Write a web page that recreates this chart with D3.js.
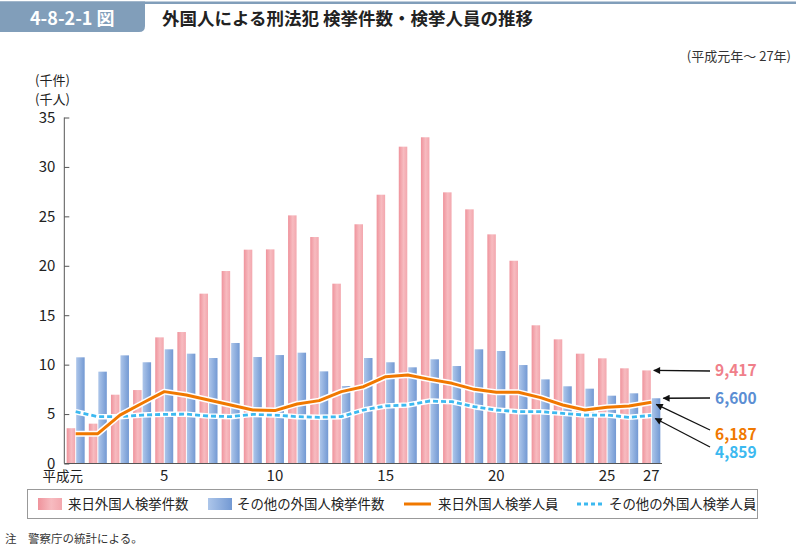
<!DOCTYPE html>
<html>
<head>
<meta charset="utf-8">
<script src="https://cdn.jsdelivr.net/npm/d3@7"></script>
<style>
  body { margin: 0; background: #fff; }
  svg { display: block; font-family: "Noto Sans CJK JP", "Noto Sans", sans-serif; }
</style>
</head>
<body>
<svg id="chart" width="796" height="547"></svg>
<script>
// 平成元年～27年
const years = d3.range(1, 28);
const xTickYears = [1, 5, 10, 15, 20, 25, 27];
const xTickLabels = ["平成元", "5", "10", "15", "20", "25", "27"];
const yTicks = [0, 5, 10, 15, 20, 25, 30, 35];

// 来日外国人検挙件数 (千件)
const raiCases = [3.57, 4.03, 6.96, 7.43, 12.76, 13.30, 17.18, 19.47, 21.63, 21.66, 25.10, 22.91, 18.19, 24.20,
  27.19, 32.05, 33.00, 27.43, 25.71, 23.18, 20.51, 13.98, 12.56, 11.11, 10.64, 9.63, 9.417];
// その他の外国人検挙件数 (千件)
const otherCases = [10.74, 9.29, 10.94, 10.24, 11.55, 11.11, 10.67, 12.19, 10.77, 10.97, 11.21, 9.32, 7.84, 10.67,
  10.24, 9.73, 10.54, 9.86, 11.55, 11.38, 9.96, 8.51, 7.81, 7.57, 6.86, 7.10, 6.600];
// 来日外国人検挙人員 (千人)
const raiPersons = [3.02, 3.02, 4.90, 6.09, 7.27, 6.93, 6.42, 5.92, 5.41, 5.35, 6.02, 6.36, 7.27, 7.77,
  8.78, 8.95, 8.51, 8.11, 7.50, 7.20, 7.20, 6.66, 5.92, 5.41, 5.68, 5.82, 6.187];
// その他の外国人検挙人員 (千人)
const otherPersons = [5.24, 4.74, 4.74, 4.90, 4.97, 4.99, 4.80, 4.74, 4.97, 4.90, 4.74, 4.67, 4.74, 5.41,
  5.82, 5.92, 6.32, 6.25, 5.75, 5.41, 5.24, 5.24, 5.07, 4.90, 4.90, 4.67, 4.859];

const legendNames = ["来日外国人検挙件数", "その他の外国人検挙件数", "来日外国人検挙人員", "その他の外国人検挙人員"];

const pink = "#f07f8a", blue = "#5b8ed3", orange = "#f07800", sky = "#3cb9f0";

const svg = d3.select("#chart");

// gradients for bars
const defs = svg.append("defs");
const gp = defs.append("linearGradient").attr("id", "gPink");
gp.append("stop").attr("offset", "0%").attr("stop-color", "#ef939c");
gp.append("stop").attr("offset", "55%").attr("stop-color", "#f7bbc0");
gp.append("stop").attr("offset", "100%").attr("stop-color", "#f3a7ae");
const gb = defs.append("linearGradient").attr("id", "gBlue");
gb.append("stop").attr("offset", "0%").attr("stop-color", "#adc6ea");
gb.append("stop").attr("offset", "100%").attr("stop-color", "#7399d3");
defs.append("marker").attr("id", "arrow").attr("viewBox", "0 0 10 10")
  .attr("refX", 9).attr("refY", 5).attr("markerWidth", 9).attr("markerHeight", 7)
  .attr("markerUnits", "userSpaceOnUse").attr("orient", "auto")
  .append("path").attr("d", "M0,0L10,5L0,10Z").attr("fill", "#111");

// header
const hdr = "#819eba";
svg.append("rect").attr("x", 0).attr("y", 1.5).attr("width", 796).attr("height", 2.5).attr("fill", hdr);
svg.append("path").attr("d", "M0,1.5H145V26Q145,32 139,32H0Z").attr("fill", hdr);
svg.append("text").attr("x", 30).attr("y", 25).attr("fill", "#fff")
  .attr("font-size", 18).attr("font-weight", "bold").text("4-8-2-1 図");
svg.append("text").attr("x", 162).attr("y", 25).attr("fill", "#222")
  .attr("font-size", 17.5).attr("font-weight", "bold").text("外国人による刑法犯 検挙件数・検挙人員の推移");
svg.append("text").attr("x", 791).attr("y", 61).attr("text-anchor", "end").attr("fill", "#333")
  .attr("font-size", 13).text("(平成元年～ 27年)");

// scales
const x = d3.scaleBand().domain(years).range([64.6, 662.4]);
const y = d3.scaleLinear().domain([0, 35]).range([463.5, 117.5]);
const cx = d => x(d) + x.bandwidth() / 2;

// bars
const g = svg.append("g");
g.selectAll("rect.rai").data(years).enter().append("rect").attr("class", "rai")
  .attr("x", d => cx(d) - 9).attr("width", 8.5)
  .attr("y", (d, i) => y(raiCases[i])).attr("height", (d, i) => y(0) - y(raiCases[i]))
  .attr("fill", "url(#gPink)");
g.selectAll("rect.oth").data(years).enter().append("rect").attr("class", "oth")
  .attr("x", d => cx(d) + 0.5).attr("width", 8.5)
  .attr("y", (d, i) => y(otherCases[i])).attr("height", (d, i) => y(0) - y(otherCases[i]))
  .attr("fill", "url(#gBlue)");

// lines
const line = d3.line().x((v, i) => cx(years[i])).y(v => y(v));
g.append("path").attr("d", line(otherPersons)).attr("fill", "none")
  .attr("stroke", "#fff").attr("stroke-width", 5.5).attr("stroke-linejoin", "round");
g.append("path").attr("d", line(otherPersons)).attr("fill", "none")
  .attr("stroke", sky).attr("stroke-width", 2.8).attr("stroke-dasharray", "5,3");
g.append("path").attr("d", line(raiPersons)).attr("fill", "none")
  .attr("stroke", "#fff").attr("stroke-width", 6).attr("stroke-linejoin", "round");
g.append("path").attr("d", line(raiPersons)).attr("fill", "none")
  .attr("stroke", orange).attr("stroke-width", 3).attr("stroke-linejoin", "round");

// axes
const yAxis = svg.append("g").attr("transform", "translate(64.3,0)")
  .call(d3.axisLeft(y).tickValues(yTicks).tickSize(-5).tickPadding(9));
yAxis.select(".domain").attr("stroke", "#555").attr("d", `M0,${y(35)}V${y(0)}`);
yAxis.selectAll(".tick line").attr("stroke", "#555");
yAxis.selectAll(".tick text").attr("font-size", 15).attr("fill", "#222")
  .attr("font-family", "'Noto Sans CJK JP', sans-serif");
svg.append("line").attr("x1", 64.3).attr("x2", 662).attr("y1", y(0)).attr("y2", y(0))
  .attr("stroke", "#555").attr("stroke-width", 1.2);

svg.selectAll("text.xt").data(xTickYears).enter().append("text").attr("class", "xt")
  .attr("x", d => d === 1 ? cx(d) - 13 : cx(d)).attr("y", 481).attr("text-anchor", "middle")
  .attr("font-size", d => d === 1 ? 13.5 : 15).attr("fill", "#222")
  .text((d, i) => xTickLabels[i]);

svg.append("text").attr("x", 35).attr("y", 85).attr("font-size", 13).attr("fill", "#222").text("(千件)");
svg.append("text").attr("x", 35).attr("y", 104).attr("font-size", 13).attr("fill", "#222").text("(千人)");

// end annotations
const last = years.length - 1;
const notes = [
  { v: raiCases[last], color: pink, ty: 370, tx: cx(27) - 0.5 + 3, vy: y(raiCases[last]) },
  { v: otherCases[last], color: blue, ty: 398, tx: cx(27) + 9 + 3, vy: y(otherCases[last]) },
  { v: raiPersons[last], color: orange, ty: 434, tx: cx(27) + 5, vy: y(raiPersons[last]) + 2 },
  { v: otherPersons[last], color: sky, ty: 452, tx: cx(27) + 4, vy: y(otherPersons[last]) + 3 }
];
const lineStartY = [371, 398, 430, 447];
notes.forEach((n, i) => {
  svg.append("line").attr("x1", 710).attr("y1", lineStartY[i]).attr("x2", n.tx).attr("y2", n.vy)
    .attr("stroke", "#111").attr("stroke-width", 1.3).attr("marker-end", "url(#arrow)");
  svg.append("text").attr("x", 715).attr("y", n.ty + 6).attr("font-size", 15.5).attr("font-weight", "bold")
    .attr("fill", n.color).text(d3.format(",")(Math.round(n.v * 1000)));
});

// legend
svg.append("rect").attr("x", 27.5).attr("y", 489.5).attr("width", 730).attr("height", 29)
  .attr("fill", "#fff").attr("stroke", "#999");
const lg = svg.append("g");
lg.append("rect").attr("x", 38).attr("y", 498).attr("width", 24).attr("height", 12).attr("fill", "url(#gPink)");
lg.append("rect").attr("x", 208).attr("y", 498).attr("width", 24).attr("height", 12).attr("fill", "url(#gBlue)");
lg.append("line").attr("x1", 404).attr("x2", 431).attr("y1", 504).attr("y2", 504)
  .attr("stroke", orange).attr("stroke-width", 3);
lg.append("line").attr("x1", 577).attr("x2", 604).attr("y1", 504).attr("y2", 504)
  .attr("stroke", sky).attr("stroke-width", 2.8).attr("stroke-dasharray", "4,3");
const lx = [68, 237, 438, 609];
lg.selectAll("text").data(legendNames).enter().append("text")
  .attr("x", (d, i) => lx[i]).attr("y", 509).attr("font-size", 13.4).attr("fill", "#222").text(d => d);

svg.append("text").attr("x", 5).attr("y", 543).attr("font-size", 11.5).attr("fill", "#333").text("注　警察庁の統計による。");
</script>
</body>
</html>
